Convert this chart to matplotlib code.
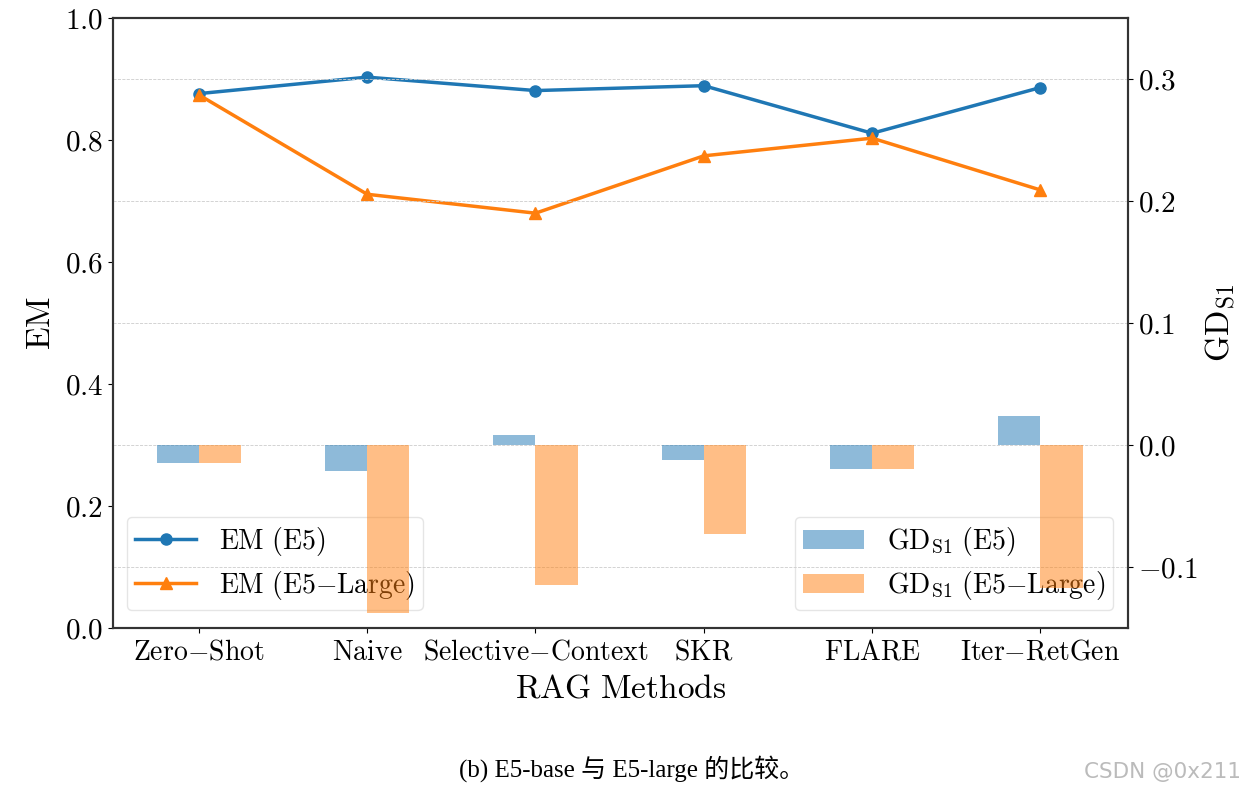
import numpy as np
import matplotlib
matplotlib.use('Agg')
import matplotlib.pyplot as plt
from matplotlib.ticker import FuncFormatter

plt.rcParams['mathtext.fontset'] = 'cm'

methods = ['Zero-Shot', 'Naive', 'Selective-Context', 'SKR', 'FLARE', 'Iter-RetGen']
em_e5 = [0.876, 0.903, 0.881, 0.889, 0.811, 0.886]
em_large = [0.874, 0.711, 0.680, 0.774, 0.803, 0.718]
gd_e5 = [-0.015, -0.021, 0.008, -0.012, -0.020, 0.024]
gd_large = [-0.015, -0.138, -0.115, -0.073, -0.020, -0.117]


def rm(s):
    # plain text in computer modern via mathtext, dash as an unspaced minus
    s = s.replace(' ', r'\ ').replace('-', '{-}')
    return r'$\mathrm{' + s + '}$'


def tick_fmt(v, pos):
    return rm(f'{v:.1f}') if abs(v) > 1e-9 else rm('0.0')


x = np.arange(len(methods))
w = 0.25

fig = plt.figure(figsize=(12.43, 7.92), dpi=100)
ax1 = fig.add_axes([0.0909, 0.2071, 0.8166, 0.7702])
ax2 = ax1.twinx()

l1, = ax1.plot(x, em_e5, color='#1f77b4', marker='o', lw=2.5, ms=8)
l2, = ax1.plot(x, em_large, color='#ff7f0e', marker='^', lw=2.5, ms=8)
ax1.set_ylim(0, 1.0)
ax1.set_xlim(-0.51, 5.52)
ax1.set_xticks(x)
ax1.set_xticklabels([rm(m) for m in methods], fontsize=20)
ax1.yaxis.set_major_formatter(FuncFormatter(tick_fmt))
ax1.tick_params(axis='y', labelsize=21)
ax1.set_ylabel(rm('EM'), fontsize=24, labelpad=6)
ax1.set_xlabel(rm('RAG Methods'), fontsize=24, labelpad=4)

gd = r'$\mathrm{GD}_{\mathrm{S1}}$'
b1 = ax2.bar(x - w / 2, gd_e5, w, color='#1f77b4', alpha=0.5)
b2 = ax2.bar(x + w / 2, gd_large, w, color='#ff7f0e', alpha=0.5)
ax2.set_ylim(-0.15, 0.35)
ax2.set_yticks([-0.1, 0.0, 0.1, 0.2, 0.3])
ax2.yaxis.set_major_formatter(FuncFormatter(tick_fmt))
ax2.tick_params(axis='y', labelsize=21)
ax2.set_ylabel(gd, fontsize=24, labelpad=4)
ax2.grid(axis='y', ls='--', lw=0.6, color='#cccccc')
ax2.set_axisbelow(True)

for ax in (ax1, ax2):
    for s in ax.spines.values():
        s.set_linewidth(1.5)
        s.set_color('#333333')

# both legends on the lower axes so the bars are drawn over them
leg1 = ax1.legend(handles=[l1, l2], labels=[rm('EM (E5)'), rm('EM (E5-Large)')],
                  loc='lower left', fontsize=20, framealpha=0.5, borderpad=0.3,
                  labelspacing=0.4, handlelength=2.2, handletextpad=0.8,
                  bbox_to_anchor=(0.0, 0.006))
ax1.add_artist(leg1)
ax1.legend(handles=[b1, b2],
           labels=[r'$\mathrm{GD}_{\mathrm{S1}}\ \mathrm{(E5)}$',
                   r'$\mathrm{GD}_{\mathrm{S1}}\ \mathrm{(E5{-}Large)}$'],
           loc='lower right', fontsize=20, framealpha=0.5, borderpad=0.3,
           labelspacing=0.4, handlelength=2.2, handletextpad=0.8,
           bbox_to_anchor=(0.999, 0.006))

fig.text(0.508, 0.012, '(b) E5-base 与 E5-large 的比较。', ha='center', va='bottom',
         fontsize=18, family=['Liberation Serif', 'Noto Sans CJK SC'])
fig.text(0.998, 0.012, 'CSDN @0x211', ha='right', va='bottom', fontsize=15.5,
         color='#bbbbbb', family=['DejaVu Sans'])

fig.savefig('out.png', dpi=100)
